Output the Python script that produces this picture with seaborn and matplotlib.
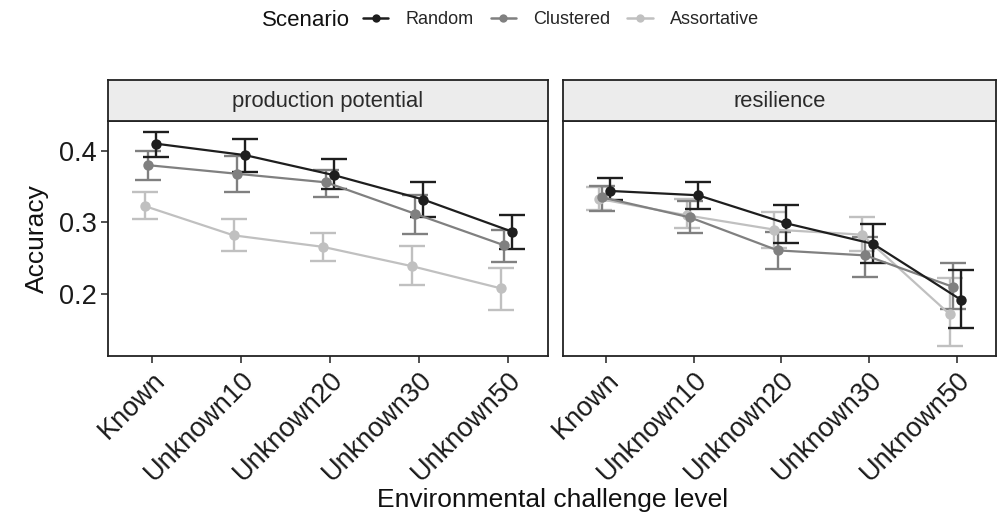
import numpy as np
import pandas as pd
import matplotlib
matplotlib.use("Agg")
import matplotlib.pyplot as plt
from matplotlib.lines import Line2D
import seaborn as sns

# ---- data ----
levels = ["Known", "Unknown10", "Unknown20", "Unknown30", "Unknown50"]
scenarios = ["Random", "Clustered", "Assortative"]
panels = ["production potential", "resilience"]

# production potential
random_pp = [0.410, 0.394, 0.366, 0.332, 0.287]
random_pp_lo = [0.392, 0.371, 0.347, 0.308, 0.263]
random_pp_hi = [0.427, 0.416, 0.389, 0.357, 0.310]
clustered_pp = [0.380, 0.368, 0.356, 0.312, 0.268]
clustered_pp_lo = [0.359, 0.342, 0.336, 0.284, 0.245]
clustered_pp_hi = [0.400, 0.393, 0.373, 0.338, 0.289]
assort_pp = [0.323, 0.282, 0.266, 0.239, 0.208]
assort_pp_lo = [0.305, 0.260, 0.246, 0.212, 0.178]
assort_pp_hi = [0.342, 0.305, 0.285, 0.267, 0.236]

# resilience
random_r = [0.344, 0.338, 0.299, 0.270, 0.192]
random_r_lo = [0.332, 0.319, 0.272, 0.243, 0.152]
random_r_hi = [0.362, 0.356, 0.325, 0.298, 0.233]
clustered_r = [0.335, 0.307, 0.261, 0.254, 0.210]
clustered_r_lo = [0.316, 0.285, 0.235, 0.224, 0.179]
clustered_r_hi = [0.351, 0.330, 0.286, 0.280, 0.243]
assort_r = [0.333, 0.310, 0.290, 0.283, 0.172]
assort_r_lo = [0.318, 0.292, 0.264, 0.260, 0.127]
assort_r_hi = [0.350, 0.333, 0.314, 0.307, 0.222]

colors = {"Random": "#1e1e1e", "Clustered": "#808080", "Assortative": "#c0c0c0"}
offsets = {"Random": 0.05, "Clustered": -0.04, "Assortative": -0.08}

values = {
    ("production potential", "Random"): (random_pp, random_pp_lo, random_pp_hi),
    ("production potential", "Clustered"): (clustered_pp, clustered_pp_lo, clustered_pp_hi),
    ("production potential", "Assortative"): (assort_pp, assort_pp_lo, assort_pp_hi),
    ("resilience", "Random"): (random_r, random_r_lo, random_r_hi),
    ("resilience", "Clustered"): (clustered_r, clustered_r_lo, clustered_r_hi),
    ("resilience", "Assortative"): (assort_r, assort_r_lo, assort_r_hi),
}

rows = []
for (panel, sc), (m, lo, hi) in values.items():
    for i, lev in enumerate(levels):
        rows.append(dict(panel=panel, Scenario=sc, level=lev, idx=i,
                         x=i + offsets[sc], Accuracy=m[i], lo=lo[i], hi=hi[i]))
df = pd.DataFrame(rows)

sns.set_theme(style="white")
plt.rcParams["font.family"] = ["Liberation Sans", "DejaVu Sans"]

W, H = 999, 522
fig = plt.figure(figsize=(W / 100, H / 100), dpi=100)


def px_box(x0, y0, x1, y1):
    return [x0 / W, 1 - y1 / H, (x1 - x0) / W, (y1 - y0) / H]


panel_px = [(108, 548), (563, 996)]
top_strip, top_panel, bottom_panel = 80, 121, 356
draw_order = ["Assortative", "Clustered", "Random"]

for k, (panel, (x0, x1)) in enumerate(zip(panels, panel_px)):
    ax = fig.add_axes(px_box(x0, top_panel, x1, bottom_panel))
    sub = df[df.panel == panel]
    for sc in draw_order:
        d = sub[sub.Scenario == sc]
        ax.errorbar(d.x, d.Accuracy, yerr=[d.Accuracy - d.lo, d.hi - d.Accuracy],
                    fmt="none", ecolor=colors[sc], elinewidth=1.7, capsize=9.5,
                    capthick=1.7, zorder=2)
        sns.lineplot(data=d, x="x", y="Accuracy", color=colors[sc], marker="o",
                     markersize=7.5, markeredgewidth=0, linewidth=1.6,
                     estimator=None, sort=False, legend=False, ax=ax, zorder=3)
    ax.set_xlim(-0.49, 4.45)
    ax.set_ylim(0.1135, 0.4417)
    ax.set_xticks(range(len(levels)))
    ax.set_xticklabels(levels, rotation=45, ha="right", rotation_mode="anchor",
                       fontsize=19.5, color="#1a1a1a")
    ax.set_yticks([0.2, 0.3, 0.4])
    ax.tick_params(axis="both", which="both", direction="out", length=5,
                   width=1.2, color="#333333", bottom=True, left=True, pad=3)
    if k == 0:
        ax.set_yticklabels(["0.2", "0.3", "0.4"], fontsize=19.5, color="#1a1a1a")
        ax.set_ylabel("Accuracy", fontsize=19, color="#111111", labelpad=7)
    else:
        ax.set_yticklabels([])
        ax.set_ylabel("")
        ax.tick_params(axis="y", left=False)
    ax.set_xlabel("")
    for s in ax.spines.values():
        s.set_color("#222222")
        s.set_linewidth(1.3)
    ax.grid(False)

    # strip
    sax = fig.add_axes(px_box(x0, top_strip, x1, top_panel))
    sax.set_facecolor("#ececec")
    sax.set_xticks([])
    sax.set_yticks([])
    for s in sax.spines.values():
        s.set_color("#222222")
        s.set_linewidth(1.3)
    sax.text(0.5, 0.48, panel, ha="center", va="center", fontsize=15.8,
             color="#2a2a2a", transform=sax.transAxes)

fig.text(553 / W, 1 - 500 / H, "Environmental challenge level", ha="center",
         va="center", fontsize=19, color="#111111")

# legend
fig.text(262 / W, 1 - 20 / H, "Scenario", ha="left", va="center", fontsize=16,
         color="#111111")
handles = [Line2D([0], [0], color=colors[sc], marker="o", markersize=6,
                  markeredgewidth=0, linewidth=1.8) for sc in scenarios]
fig.legend(handles, scenarios, loc="center left",
           bbox_to_anchor=(363 / W, 1 - 20 / H), ncol=3, frameon=False,
           fontsize=13, handlelength=1.4, handletextpad=0.95,
           columnspacing=0.95, borderaxespad=0, borderpad=0)

fig.savefig("out.png", dpi=100)
